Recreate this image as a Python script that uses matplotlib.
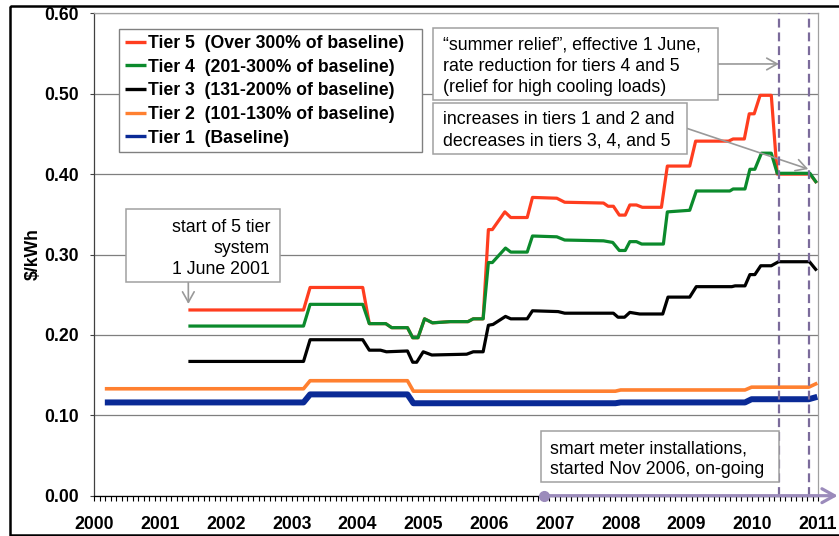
import matplotlib
matplotlib.use("Agg")
import matplotlib.pyplot as plt
from matplotlib.transforms import Affine2D
from matplotlib.patches import Rectangle
import numpy as np

plt.rcParams['font.family'] = ['Liberation Sans', 'DejaVu Sans']

# ---------------- data (decimal years, $/kWh) ----------------
tier1_x = [2000.16, 2003.18, 2003.28, 2004.76, 2004.85, 2007.92, 2008.00, 2009.89, 2009.99, 2010.86, 2010.99]
tier1_y = [0.116, 0.116, 0.126, 0.126, 0.115, 0.115, 0.116, 0.116, 0.120, 0.120, 0.123]

tier2_x = [2000.16, 2003.18, 2003.28, 2004.76, 2004.85, 2007.92, 2008.00, 2009.89, 2009.99, 2010.86, 2010.99]
tier2_y = [0.133, 0.133, 0.143, 0.143, 0.130, 0.130, 0.1315, 0.1315, 0.135, 0.135, 0.140]

tier3_x = [2001.43, 2003.18, 2003.28, 2004.08, 2004.18, 2004.35, 2004.44, 2004.76, 2004.84, 2004.90,
           2005.00, 2005.13, 2005.66, 2005.76, 2005.91, 2005.99, 2006.06, 2006.25, 2006.33, 2006.58,
           2006.66, 2007.05, 2007.15, 2007.89, 2007.96, 2008.06, 2008.14, 2008.29, 2008.64, 2008.72,
           2009.05, 2009.15, 2009.69, 2009.74, 2009.89, 2009.965, 2010.04, 2010.13, 2010.29, 2010.40,
           2010.87, 2010.98]
tier3_y = [0.167, 0.167, 0.194, 0.194, 0.181, 0.181, 0.179, 0.180, 0.166, 0.166,
           0.179, 0.175, 0.176, 0.179, 0.179, 0.212, 0.213, 0.223, 0.220, 0.220,
           0.230, 0.229, 0.227, 0.227, 0.222, 0.222, 0.228, 0.226, 0.226, 0.247,
           0.247, 0.260, 0.260, 0.261, 0.261, 0.275, 0.275, 0.286, 0.286, 0.291,
           0.291, 0.280]

tier4_x = [2001.43, 2003.18, 2003.28, 2004.08, 2004.18, 2004.43, 2004.52, 2004.76, 2004.84, 2004.92,
           2005.02, 2005.14, 2005.41, 2005.68, 2005.76, 2005.91, 2005.99, 2006.05, 2006.25, 2006.33,
           2006.58, 2006.66, 2007.03, 2007.15, 2007.74, 2007.88, 2007.98, 2008.07, 2008.14, 2008.24,
           2008.32, 2008.65, 2008.71, 2009.05, 2009.15, 2009.66, 2009.71, 2009.89, 2009.965, 2010.04,
           2010.14, 2010.29, 2010.38, 2010.877, 2010.98]
tier4_y = [0.211, 0.211, 0.238, 0.238, 0.214, 0.214, 0.209, 0.209, 0.1965, 0.1965,
           0.220, 0.215, 0.2165, 0.2165, 0.220, 0.220, 0.290, 0.290, 0.308, 0.303,
           0.303, 0.323, 0.322, 0.318, 0.317, 0.315, 0.305, 0.305, 0.316, 0.316,
           0.313, 0.313, 0.353, 0.355, 0.379, 0.379, 0.3815, 0.3815, 0.406, 0.406,
           0.426, 0.426, 0.401, 0.401, 0.389]

tier5_x = [2001.43, 2003.18, 2003.28, 2004.08, 2004.18, 2004.43, 2004.52, 2004.76, 2004.84, 2004.92,
           2005.02, 2005.14, 2005.41, 2005.68, 2005.76, 2005.91, 2005.99, 2006.05, 2006.24, 2006.33,
           2006.58, 2006.66, 2007.03, 2007.15, 2007.74, 2007.81, 2007.89, 2007.98, 2008.07, 2008.14,
           2008.24, 2008.33, 2008.62, 2008.71, 2009.05, 2009.14, 2009.64, 2009.71, 2009.88, 2009.955,
           2010.03, 2010.12, 2010.29, 2010.38, 2010.877, 2010.98]
tier5_y = [0.231, 0.231, 0.259, 0.259, 0.214, 0.214, 0.209, 0.209, 0.1965, 0.1965,
           0.220, 0.215, 0.2165, 0.2165, 0.220, 0.220, 0.331, 0.331, 0.353, 0.346,
           0.346, 0.371, 0.370, 0.365, 0.364, 0.360, 0.360, 0.349, 0.349, 0.3616,
           0.3616, 0.3587, 0.3587, 0.410, 0.410, 0.441, 0.441, 0.4437, 0.4437, 0.475,
           0.475, 0.498, 0.498, 0.400, 0.400, 0.389]

series_labels = ['Tier 5  (Over 300% of baseline)', 'Tier 4  (201-300% of baseline)',
                 'Tier 3  (131-200% of baseline)', 'Tier 2  (101-130% of baseline)',
                 'Tier 1  (Baseline)']
series_colors = ['#ff3d1f', '#0b8a2c', '#000000', '#ff8030', '#0a2a96']
series_widths = [2.3, 2.3, 2.3, 2.6, 4.3]

year_ticks = list(range(2000, 2012))
y_ticks = [0.0, 0.1, 0.2, 0.3, 0.4, 0.5, 0.6]

tier_start = 2001.43          # 1 June 2001
tier_start_level = 0.2385
rate_change_dates = [2010.405, 2010.866]
summer_arrow_level = 0.537
change_arrow_level = 0.4063
smart_meter_start = 2006.83   # Nov 2006
smart_meter_arrow_end = 2011.30

note_start = ['start of 5 tier', 'system', '1 June 2001']
note_summer = ['\u201csummer relief\u201d, effective 1 June,',
               'rate reduction for tiers 4 and 5',
               '(relief for high cooling loads)']
note_change = ['increases in tiers 1 and 2 and', 'decreases in tiers 3, 4, and 5']
note_smart = ['smart meter installations,', 'started Nov 2006, on-going']

# ---------------- figure ----------------
W, H = 839, 536
fig = plt.figure(figsize=(W / 100, H / 100), dpi=100)
fig.patch.set_facecolor('white')
L, R, T, B = 94.3, 818.0, 13.3, 495.7
ax = fig.add_axes([L / W, 1 - B / H, (R - L) / W, (B - T) / H])
pix = Affine2D().scale(1 / W, -1 / H).translate(0, 1) + fig.transFigure

# outer black frame
fig.add_artist(Rectangle((10, 6), 850, 528.5, transform=pix, fill=False,
                         edgecolor='black', lw=1.8, clip_on=False, zorder=0))

xs = [tier5_x, tier4_x, tier3_x, tier2_x, tier1_x]
ys = [tier5_y, tier4_y, tier3_y, tier2_y, tier1_y]
lines = []
for x, y, lab, c, w in zip(xs, ys, series_labels, series_colors, series_widths):
    ln, = ax.plot(x, y, color=c, lw=w, label=lab, solid_joinstyle='round',
                  solid_capstyle='butt', zorder=3)
    lines.append(ln)

ax.set_xlim(2000, 2011)
ax.set_ylim(0, 0.6)
ax.set_xticks(year_ticks)
ax.set_xticklabels([str(y) for y in year_ticks], fontweight='bold', fontsize=12.7)
ax.set_xticks(np.arange(2000, 2011 + 1e-6, 1 / 12), minor=True)
ax.set_yticks(y_ticks)
ax.set_yticklabels(['%.2f' % v for v in y_ticks], fontweight='bold', fontsize=12.7)
ax.tick_params(axis='x', which='both', direction='out', length=3.6, width=0.8, pad=11, color='black')
ax.tick_params(axis='y', which='major', direction='out', length=3.2, width=0.8, pad=8, color='#404040')
ax.yaxis.grid(True, color='#7f7f7f', lw=0.9)
ax.set_axisbelow(True)
ax.spines['top'].set_color('#a0a0a0')
ax.spines['right'].set_color('#a0a0a0')
ax.spines['left'].set_color('#404040')
ax.spines['bottom'].set_color('black')
for s in ax.spines.values():
    s.set_linewidth(0.9)

ax.set_ylabel('$/kWh', fontweight='bold', fontsize=12.7)
ax.yaxis.set_label_coords(-0.073, 0.5)

# dashed rate-change lines
for d in rate_change_dates:
    ax.axvline(d, color='#7b6b9b', lw=1.6, ls=(0, (4, 2.2)), zorder=5)

# legend
lx0 = (119.3 - L) / (R - L)
lw_ = (422 - 119.3) / (R - L)
ly0 = (B - 148.3) / (B - T)
lh = (148.3 - 29) / (B - T)
leg = ax.legend(loc='upper left', bbox_to_anchor=(lx0, ly0, lw_, lh), mode='expand',
                borderaxespad=0, prop={'weight': 'bold', 'size': 12.7}, frameon=True,
                fancybox=False, framealpha=1, edgecolor='#808080', handlelength=1.2,
                handletextpad=0.08, labelspacing=0.38, borderpad=0.33)
leg.get_frame().set_linewidth(1.0)
leg.set_zorder(6)
for l in leg.get_lines():
    l.set_linewidth(2.4)

# annotation boxes
def draw_box(x0, y0, x1, y1):
    fig.add_artist(Rectangle((x0, y0), x1 - x0, y1 - y0, transform=pix, facecolor='white',
                             edgecolor='#a0a0a0', lw=1.1, zorder=2))

def draw_lines(x, baselines, texts, ha='left'):
    for yb, s in zip(baselines, texts):
        fig.text(x, yb, s, transform=pix, ha=ha, va='baseline', fontsize=12.8,
                 color='black', zorder=4)

arrow_kw = dict(arrowstyle='->,head_length=0.75,head_width=0.42', color='#999999', lw=1.2,
                shrinkA=0, shrinkB=0, mutation_scale=10)

draw_box(126, 209.3, 280, 281.7)
draw_lines(270, [232, 253, 274], note_start, ha='right')
ax.annotate('', xy=(tier_start, tier_start_level), xycoords='data',
            xytext=(188.3, 281.7), textcoords=pix, arrowprops=arrow_kw, annotation_clip=False)

draw_box(433.3, 28.3, 717.7, 100)
draw_lines(442.7, [50, 71, 92], note_summer)
ax.annotate('', xy=(rate_change_dates[0], summer_arrow_level), xycoords='data',
            xytext=(717.7, 64), textcoords=pix, arrowprops=arrow_kw, annotation_clip=False)

draw_box(433.3, 102.7, 686.7, 154.3)
draw_lines(442.7, [124.5, 145.5], note_change)
ax.annotate('', xy=(rate_change_dates[1] - 0.015, change_arrow_level), xycoords='data',
            xytext=(686.7, 128.3), textcoords=pix, arrowprops=arrow_kw, annotation_clip=False)

draw_box(541, 431, 779, 482.3)
draw_lines(550, [453.3, 474], note_smart)

# smart meter arrow along the x axis
ax.annotate('', xy=(smart_meter_arrow_end, 0), xycoords='data',
            xytext=(smart_meter_start, 0), textcoords='data',
            arrowprops=dict(arrowstyle='->,head_length=0.9,head_width=0.5', color='#9b8bbb',
                            lw=2.3, shrinkA=0, shrinkB=0, mutation_scale=10),
            annotation_clip=False, zorder=6)
ax.plot([smart_meter_start], [0], 'o', ms=7, color='#9b8bbb', clip_on=False, zorder=7)

fig.savefig('out.png', dpi=100, facecolor='white')
